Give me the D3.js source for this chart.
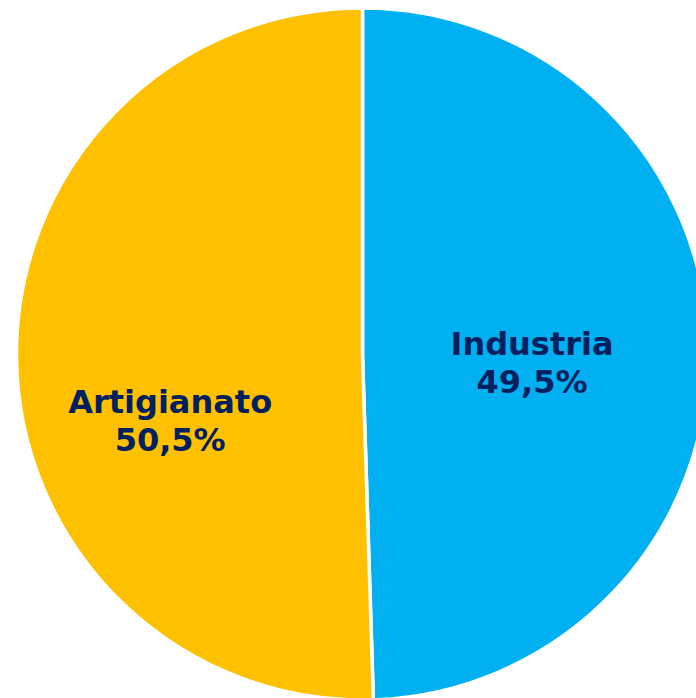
<!DOCTYPE html>
<html>
<head>
<meta charset="utf-8">
<script src="https://cdn.jsdelivr.net/npm/d3@7"></script>
<style>
  html, body { margin: 0; padding: 0; background: #fff; }
  svg { display: block; }
</style>
</head>
<body>
<svg id="chart" width="696" height="698"></svg>
<script>
// data
var categories = ["Industria", "Artigianato"];
var values = [49.5, 50.5];
var colors = ["#00B0F0", "#FFC000"];

// layout
var cx = 362.5, cy = 354, radius = 346;
var labelShift = [[0, 12], [0, 64]]; // nudges from the centroid, like the source
var labelRadiusFactor = [0.49, 0.556];

var svg = d3.select("#chart");

var pie = d3.pie().sort(null).value(function (d) { return d; });
var arcs = pie(values);

var arc = d3.arc().innerRadius(0).outerRadius(radius);

var g = svg.append("g")
    .attr("transform", "translate(" + cx + "," + cy + ")");

g.selectAll("path.slice")
    .data(arcs)
    .enter().append("path")
    .attr("class", "slice")
    .attr("d", arc)
    .attr("fill", function (d, i) { return colors[i]; })
    .attr("stroke", "#fff")
    .attr("stroke-width", 3.5);

var fmt = function (v) { return v.toFixed(1).replace(".", ",") + "%"; };

var labels = g.selectAll("text.lbl")
    .data(arcs)
    .enter().append("text")
    .attr("class", "lbl")
    .attr("text-anchor", "middle")
    .attr("font-family", "DejaVu Sans, Verdana, sans-serif")
    .attr("font-weight", "bold")
    .attr("font-size", "32px")
    .attr("fill", "#002060")
    .attr("transform", function (d, i) {
        var r = radius * labelRadiusFactor[i];
        var la = d3.arc().innerRadius(r).outerRadius(r);
        var c = la.centroid(d);
        return "translate(" + (c[0] + labelShift[i][0]) + "," + (c[1] + labelShift[i][1]) + ")";
    });

labels.append("tspan")
    .attr("x", 0)
    .attr("y", -8)
    .text(function (d, i) { return categories[i]; });

labels.append("tspan")
    .attr("x", 0)
    .attr("y", 30)
    .text(function (d, i) { return fmt(values[i]); });
</script>
</body>
</html>
